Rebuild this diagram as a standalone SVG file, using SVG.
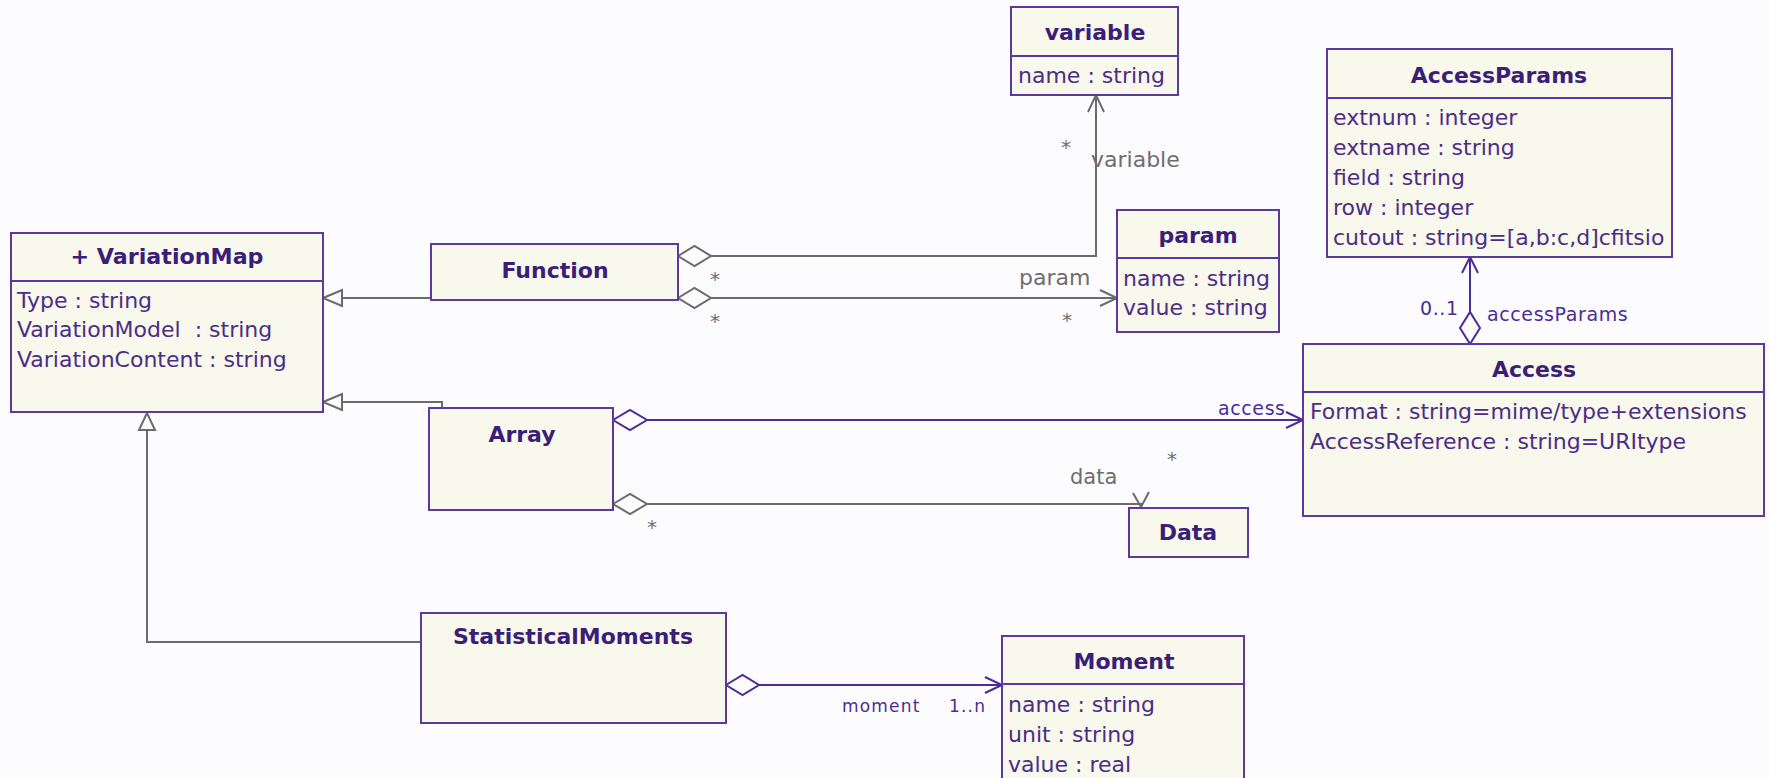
<svg xmlns="http://www.w3.org/2000/svg" width="1769" height="778" viewBox="0 0 1769 778">
<style>
.box{fill:#F8F8EC;stroke:#5A3A9E;stroke-width:2}
.sep{stroke:#5A3A9E;stroke-width:2}
.title{font-family:"DejaVu Sans",Verdana,sans-serif;font-weight:bold;font-size:22px;fill:#3A1E78;text-anchor:middle}
.attr{font-family:"DejaVu Sans",Verdana,sans-serif;font-size:22px;fill:#4B2D86}
.g{fill:none;stroke:#6B6B6B;stroke-width:2}
.p{fill:none;stroke:#4B2C98;stroke-width:2}
.dg{fill:#FCFCFF;stroke:#6B6B6B;stroke-width:2}
.dp{fill:#FCFCFF;stroke:#4B2C98;stroke-width:2}
.gl{font-family:"DejaVu Sans",Verdana,sans-serif;font-size:22px;fill:#6E6E6E}
.st{font-family:"DejaVu Sans",Verdana,sans-serif;font-size:20px;fill:#6E6E6E;text-anchor:middle}
.pl{font-family:"DejaVu Sans",Verdana,sans-serif;font-size:19px;fill:#4B2C98;letter-spacing:0.6px}
.pm{font-family:"DejaVu Sans",Verdana,sans-serif;font-size:17px;fill:#4B2C98;letter-spacing:1.2px}
</style>
<rect x="0" y="0" width="1769" height="778" fill="#FCFCFF"/>

<g id="connectors">
  <!-- generalizations -->
  <line class="g" x1="431" y1="298" x2="342" y2="298"/>
  <polygon class="dg" points="323,298 342,290 342,306"/>
  <polyline class="g" points="442,408 442,402 342,402"/>
  <polygon class="dg" points="323,402 342,394 342,410"/>
  <polyline class="g" points="421,642 147,642 147,430"/>
  <polygon class="dg" points="147,413 139,430 155,430"/>
  <!-- Function -> variable -->
  <polyline class="g" points="711,256 1096,256 1096,95"/>
  <polygon class="dg" points="678,256 694.5,246 711,256 694.5,266"/>
  <polyline class="g" points="1088,112 1096,95 1104,112"/>
  <!-- Function -> param -->
  <line class="g" x1="711" y1="298" x2="1117" y2="298"/>
  <polygon class="dg" points="678,298 694.5,288 711,298 694.5,308"/>
  <polyline class="g" points="1100,290 1117,298 1100,306"/>
  <!-- Array -> Access -->
  <line class="p" x1="647" y1="420" x2="1303" y2="420"/>
  <polygon class="dp" points="613,420 630,410 647,420 630,430"/>
  <polyline class="p" points="1286,412 1303,420 1286,428"/>
  <!-- Array -> Data -->
  <polyline class="g" points="647,504 1141,504 1141,507"/>
  <polygon class="dg" points="613,504 630,494 647,504 630,514"/>
  <polyline class="g" points="1133,493 1141,507 1149,492"/>
  <!-- Access -> AccessParams -->
  <line class="p" x1="1470" y1="312" x2="1470" y2="257"/>
  <polygon class="dp" points="1470,344 1460,328 1470,312 1480,328"/>
  <polyline class="p" points="1462,273 1470,257 1478,273"/>
  <!-- StatisticalMoments -> Moment -->
  <line class="p" x1="759" y1="685" x2="1002" y2="685"/>
  <polygon class="dp" points="726,685 742.5,675 759,685 742.5,695"/>
  <polyline class="p" points="985,677 1002,685 985,693"/>
  <!-- labels -->
  <text class="st" x="715" y="286">*</text>
  <text class="st" x="715" y="328">*</text>
  <text class="st" x="1066" y="154">*</text>
  <text class="gl" x="1091" y="167">variable</text>
  <text class="gl" x="1019" y="285">param</text>
  <text class="st" x="1067" y="327">*</text>
  <text class="pl" x="1218" y="415">access</text>
  <text class="st" x="1172" y="466">*</text>
  <text class="gl" x="1070" y="484" style="font-size:21px">data</text>
  <text class="st" x="652" y="534">*</text>
  <text class="pl" x="1420" y="315">0..1</text>
  <text class="pl" x="1487" y="321">accessParams</text>
  <text class="pm" x="842" y="712">moment</text>
  <text class="pm" x="949" y="712">1..n</text>
</g>

<g id="VariationMap">
  <rect class="box" x="11" y="233" width="312" height="179"/>
  <line class="sep" x1="11" y1="281" x2="323" y2="281"/>
  <text class="title" x="167" y="264" textLength="193" lengthAdjust="spacingAndGlyphs">+ VariationMap</text>
  <text class="attr" x="17" y="308">Type : string</text>
  <text class="attr" x="17" y="337">VariationModel&#160; : string</text>
  <text class="attr" x="17" y="367">VariationContent : string</text>
</g>

<g id="Function">
  <rect class="box" x="431" y="244" width="247" height="56"/>
  <text class="title" x="555" y="278">Function</text>
</g>

<g id="variable">
  <rect class="box" x="1011" y="7" width="167" height="88"/>
  <line class="sep" x1="1011" y1="56" x2="1178" y2="56"/>
  <text class="title" x="1095" y="40">variable</text>
  <text class="attr" x="1018" y="83">name : string</text>
</g>

<g id="param">
  <rect class="box" x="1117" y="210" width="162" height="122"/>
  <line class="sep" x1="1117" y1="258" x2="1279" y2="258"/>
  <text class="title" x="1198" y="243">param</text>
  <text class="attr" x="1123" y="286">name : string</text>
  <text class="attr" x="1123" y="315">value : string</text>
</g>

<g id="AccessParams">
  <rect class="box" x="1327" y="49" width="345" height="208"/>
  <line class="sep" x1="1327" y1="98" x2="1672" y2="98"/>
  <text class="title" x="1499" y="83">AccessParams</text>
  <text class="attr" x="1333" y="125">extnum : integer</text>
  <text class="attr" x="1333" y="155">extname : string</text>
  <text class="attr" x="1333" y="185">field : string</text>
  <text class="attr" x="1333" y="215">row : integer</text>
  <text class="attr" x="1333" y="245">cutout : string=[a,b:c,d]cfitsio</text>
</g>

<g id="Access">
  <rect class="box" x="1303" y="344" width="461" height="172"/>
  <line class="sep" x1="1303" y1="392" x2="1764" y2="392"/>
  <text class="title" x="1534" y="377">Access</text>
  <text class="attr" x="1310" y="419">Format : string=mime/type+extensions</text>
  <text class="attr" x="1310" y="449">AccessReference : string=URItype</text>
</g>

<g id="Array">
  <rect class="box" x="429" y="408" width="184" height="102"/>
  <text class="title" x="522" y="442">Array</text>
</g>

<g id="Data">
  <rect class="box" x="1129" y="508" width="119" height="49"/>
  <text class="title" x="1188" y="540">Data</text>
</g>

<g id="StatisticalMoments">
  <rect class="box" x="421" y="613" width="305" height="110"/>
  <text class="title" x="573" y="644">StatisticalMoments</text>
</g>

<g id="Moment">
  <rect class="box" x="1002" y="636" width="242" height="150"/>
  <line class="sep" x1="1002" y1="684" x2="1244" y2="684"/>
  <text class="title" x="1124" y="669">Moment</text>
  <text class="attr" x="1008" y="712">name : string</text>
  <text class="attr" x="1008" y="742">unit : string</text>
  <text class="attr" x="1008" y="772">value : real</text>
</g>
</svg>
